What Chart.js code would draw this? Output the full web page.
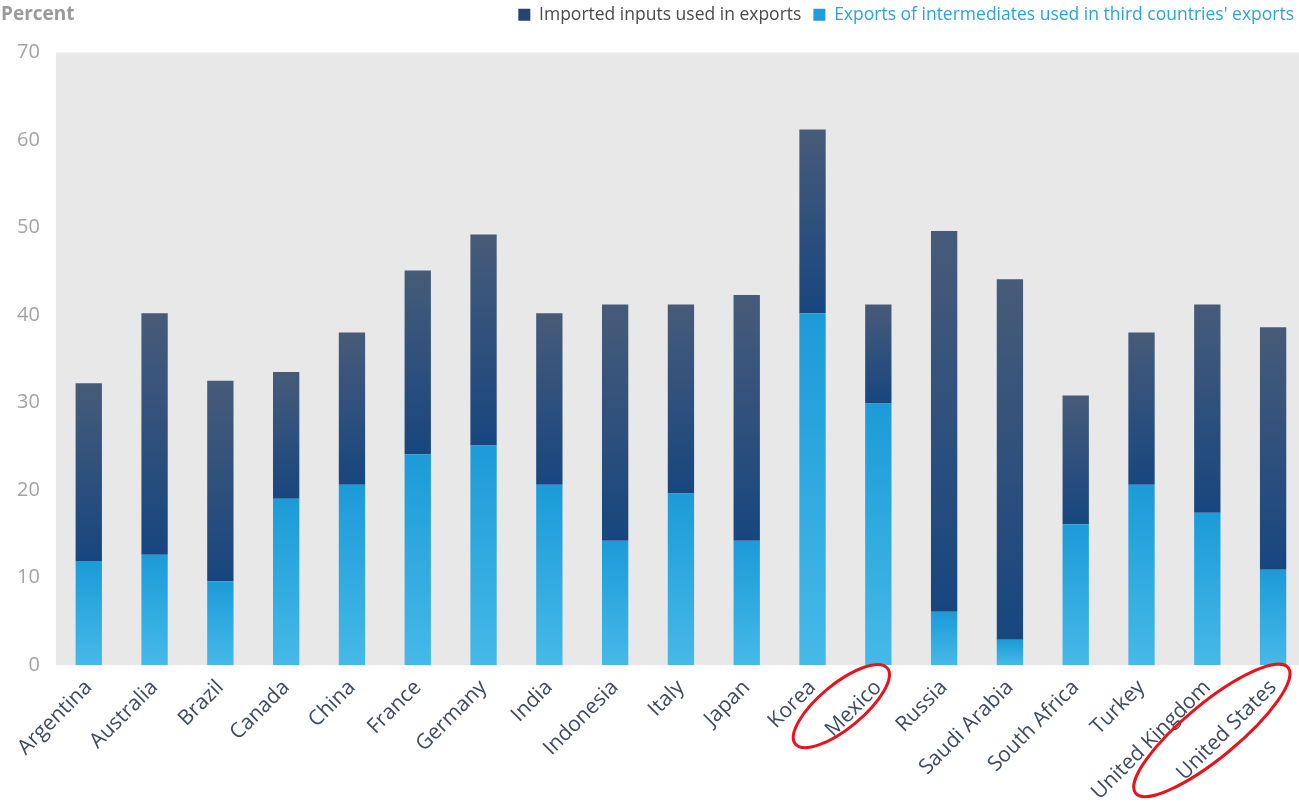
<!DOCTYPE html>
<html>
<head>
<meta charset="utf-8">
<script src="https://cdn.jsdelivr.net/npm/chart.js@4.4.1/dist/chart.umd.min.js"></script>
<style>
    html, body { margin: 0; padding: 0; background: #fff; overflow: hidden; }
    #wrap { position: relative; width: 1306px; height: 803px; }
    #unit {
        position: absolute; left: 1px; top: 0px;
        font: bold 19px "Open Sans", sans-serif; color: #9a9a9a;
    }
</style>
</head>
<body>
<div id="wrap">
    <canvas id="chart"></canvas>
    <div id="unit">Percent</div>
</div>
<script>
// ─── Data ────────────────────────────────────────────────────────────────
const countries = ['Argentina', 'Australia', 'Brazil', 'Canada', 'China', 'France', 'Germany',
    'India', 'Indonesia', 'Italy', 'Japan', 'Korea', 'Mexico', 'Russia', 'Saudi Arabia',
    'South Africa', 'Turkey', 'United Kingdom', 'United States'];

// light segment (bottom of each bar)
const intermediates = [11.9, 12.6, 9.6, 19.0, 20.6, 24.1, 25.1, 20.6, 14.2, 19.6, 14.2,
    40.2, 29.9, 6.1, 2.9, 16.1, 20.6, 17.4, 10.9];

// dark segment (on top)
const importedInputs = [20.3, 27.6, 22.9, 14.5, 17.4, 21.0, 24.1, 19.6, 27.0, 21.6, 28.1,
    21.0, 11.3, 43.5, 41.2, 14.7, 17.4, 23.8, 27.7];

const yTicks = [0, 10, 20, 30, 40, 50, 60, 70];

// labels circled in red
const highlighted = ['Mexico', 'United States'];

const LIGHT_TOP = '#1b9bd8', LIGHT_BOTTOM = '#46b9e8';
const DARK_TOP = '#475b79', DARK_BOTTOM = '#17467f';

// gradient for each stacked segment, built from the y scale
function segmentFill(ctx, top, bottom, solid) {
    const chart = ctx.chart;
    const y = chart.scales.y;
    if (ctx.type !== 'data' || !y || !chart.chartArea) return solid;
    const i = ctx.dataIndex;
    const lo = ctx.datasetIndex === 0 ? 0 : intermediates[i];
    const hi = lo + (ctx.datasetIndex === 0 ? intermediates[i] : importedInputs[i]);
    const y0 = y.getPixelForValue(hi);
    const y1 = y.getPixelForValue(lo);
    if (!isFinite(y0) || !isFinite(y1) || y0 === y1) return solid;
    const g = chart.ctx.createLinearGradient(0, y0, 0, y1);
    g.addColorStop(0, top);
    g.addColorStop(1, bottom);
    return g;
}

const plotBackground = {
    id: 'plotBackground',
    beforeDraw(chart) {
        const { ctx, chartArea: a } = chart;
        ctx.save();
        ctx.fillStyle = '#e8e8e8';
        ctx.fillRect(a.left, a.top, a.right - a.left, a.bottom - a.top);
        ctx.restore();
    }
};

// extra room under the legend so the plot starts lower
const legendGap = {
    id: 'legendGap',
    afterInit(chart) {
        const legend = chart.legend;
        if (!legend) return;
        const fit = legend.fit;
        legend.fit = function () {
            fit.call(this);
            this.height += 19;
        };
    }
};

// red hand-drawn style rings around the rotated tick labels
const labelRings = {
    id: 'labelRings',
    afterDraw(chart) {
        const { ctx, scales: { x }, chartArea } = chart;
        ctx.save();
        ctx.strokeStyle = '#e8141c';
        ctx.lineWidth = 3;
        highlighted.forEach(name => {
            const i = countries.indexOf(name);
            if (i < 0) return;
            // ring length follows the label length
            const rx = 26 + name.length * 5.6;
            const ry = name.length > 8 ? 27 : 22;
            const cx = x.getPixelForValue(i) - rx * 0.62;
            const cy = chartArea.bottom + 4 + rx * 0.62;
            ctx.beginPath();
            ctx.ellipse(cx, cy, rx, ry, -0.69, 0, Math.PI * 2);
            ctx.stroke();
        });
        ctx.restore();
    }
};

const FONT = '"Open Sans", sans-serif';

new Chart(document.getElementById('chart'), {
    type: 'bar',
    data: {
        labels: countries,
        datasets: [
            {
                label: "Exports of intermediates used in third countries' exports",
                data: intermediates,
                backgroundColor: ctx => segmentFill(ctx, LIGHT_TOP, LIGHT_BOTTOM, '#1e9fdc'),
                legendColor: '#1e9fdc',
                textColor: '#2aa3da'
            },
            {
                label: 'Imported inputs used in exports',
                data: importedInputs,
                backgroundColor: ctx => segmentFill(ctx, DARK_TOP, DARK_BOTTOM, '#23456f'),
                legendColor: '#23456f',
                textColor: '#4a4a4a'
            }
        ]
    },
    options: {
        responsive: true,
        maintainAspectRatio: false,
        animation: false,
        barPercentage: 0.4,
        categoryPercentage: 1,
        layout: { padding: { left: 1, right: 0, top: -6, bottom: -12 } },
        scales: {
            x: {
                stacked: true,
                grid: { display: false, drawTicks: false },
                border: { display: false },
                // rotated labels may hang past the plot edge, as in the original
                afterFit: scale => { scale.paddingLeft = 0; scale.paddingRight = 0; },
                ticks: {
                    autoSkip: false,
                    minRotation: 45,
                    maxRotation: 45,
                    color: '#3e4a5e',
                    padding: 10,
                    font: { family: FONT, size: 21 }
                }
            },
            y: {
                stacked: true,
                min: 0,
                max: 70,
                afterBuildTicks: axis => { axis.ticks = yTicks.map(v => ({ value: v })); },
                grid: { display: false, drawTicks: false },
                border: { display: false },
                ticks: {
                    color: '#a3a3a3',
                    padding: 16,
                    font: { family: FONT, size: 20 }
                }
            }
        },
        plugins: {
            tooltip: { enabled: false },
            legend: {
                position: 'top',
                align: 'end',
                reverse: true,
                labels: {
                    boxWidth: 12,
                    boxHeight: 12,
                    padding: 12,
                    font: { family: FONT, size: 17.5 },
                    generateLabels: chart => chart.data.datasets.map((ds, i) => ({
                        text: ds.label,
                        fillStyle: ds.legendColor,
                        strokeStyle: ds.legendColor,
                        lineWidth: 0,
                        fontColor: ds.textColor,
                        datasetIndex: i,
                        hidden: false
                    }))
                }
            }
        }
    },
    plugins: [plotBackground, legendGap, labelRings]
});
</script>
</body>
</html>
